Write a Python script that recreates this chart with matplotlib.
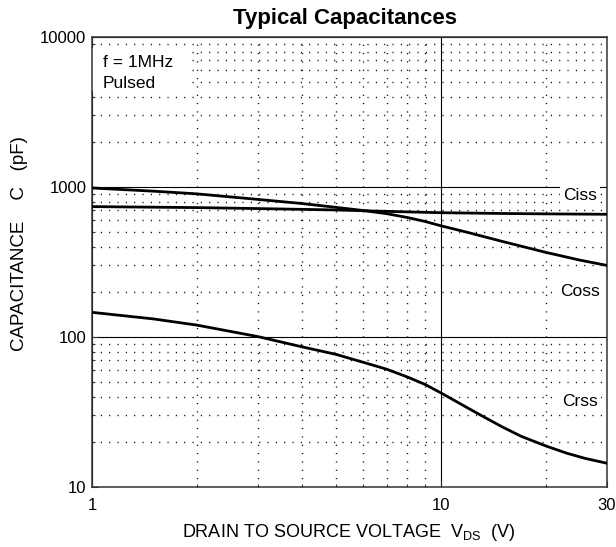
import matplotlib
matplotlib.use("Agg")
import matplotlib.pyplot as plt
from matplotlib.ticker import FixedLocator, NullFormatter, FixedFormatter
from matplotlib.patches import Rectangle

plt.rcParams['font.family'] = ['Liberation Sans', 'DejaVu Sans']
plt.rcParams['mathtext.default'] = 'regular'

# ---- data ----
vds_iss = [1, 2, 3, 5, 7, 10, 15, 20, 30]
c_iss = [740, 729, 718, 703, 688, 674, 666, 662, 658]

vds_oss = [1, 1.5, 2, 3, 4, 5, 6, 7, 8, 9, 10, 12, 15, 20, 25, 30]
c_oss = [985, 938, 900, 826, 776, 732, 697, 664, 627, 590, 552, 497, 434, 367, 326, 300]

vds_rss = [1, 1.5, 2, 3, 4, 5, 6, 7, 8, 9, 10, 12, 13, 15, 17, 20, 23, 26, 30]
c_rss = [146, 132, 120, 100.5, 86, 76.7, 67.8, 61, 54.3, 48.4, 42.5, 33.5, 30.2, 25.2,
         21.8, 18.8, 16.8, 15.5, 14.4]

x_ticks = [1, 10, 30]
x_ticklabels = ['1', '10', '30']
x_minor = [2, 3, 4, 5, 6, 7, 8, 9, 20]
y_ticks = [10, 100, 1000, 10000]
y_ticklabels = ['10', '100', '1000', '10000']
y_minor = [m * d for d in (10, 100, 1000) for m in range(2, 10)]

W, H = 616, 547
fig = plt.figure(figsize=(W / 100, H / 100), dpi=100)
L, R, T, B = 92, 607, 37, 487
ax = fig.add_axes([L / W, (H - B) / H, (R - L) / W, (B - T) / H])

ax.set_xscale('log')
ax.set_yscale('log')
ax.set_xlim(1, 30)
ax.set_ylim(10, 10000)

ax.xaxis.set_major_locator(FixedLocator(x_ticks))
ax.xaxis.set_major_formatter(FixedFormatter(x_ticklabels))
ax.xaxis.set_minor_locator(FixedLocator(x_minor))
ax.xaxis.set_minor_formatter(NullFormatter())
ax.yaxis.set_major_locator(FixedLocator(y_ticks))
ax.yaxis.set_major_formatter(FixedFormatter(y_ticklabels))
ax.yaxis.set_minor_locator(FixedLocator(y_minor))
ax.yaxis.set_minor_formatter(NullFormatter())

ax.tick_params(which='both', direction='in', labelsize=12, color='#333333')
ax.tick_params(which='major', length=4, width=0.8)
ax.tick_params(which='minor', length=2.5, width=0.8)
ax.tick_params(axis='x', pad=8)
ax.tick_params(axis='y', pad=4)

ax.grid(which='major', linestyle='-', color='black', linewidth=0.8)
ax.grid(which='minor', linestyle=(0, (0.8, 5.2)), color='black', linewidth=1.0)
ax.set_axisbelow(True)

for s in ax.spines.values():
    s.set_color('#333333')
    s.set_linewidth(1.1)

ax.plot(vds_iss, c_iss, color='black', lw=2.0, zorder=3, solid_joinstyle='round')
ax.plot(vds_oss, c_oss, color='black', lw=2.0, zorder=3, solid_joinstyle='round')
ax.plot(vds_rss, c_rss, color='black', lw=2.0, zorder=3, solid_joinstyle='round')

bb = dict(boxstyle='square,pad=0.2', facecolor='white', edgecolor='none')
def fx(px):
    return (px - L) / (R - L)
def fy(py):
    return (B - py) / (B - T)

ax.text(fx(580), fy(196), 'Ciss', transform=ax.transAxes, ha='center', va='center',
        fontsize=12.5, bbox=bb, zorder=4)
ax.text(fx(580), fy(291), 'Coss', transform=ax.transAxes, ha='center', va='center',
        fontsize=12.5, bbox=bb, zorder=4)
ax.text(fx(580), fy(401), 'Crss', transform=ax.transAxes, ha='center', va='center',
        fontsize=12.5, bbox=bb, zorder=4)

ax.add_patch(Rectangle((0, fy(91)), fx(188), fy(48) - fy(91), transform=ax.transAxes,
                       facecolor='white', edgecolor='none', zorder=2.5))
ax.text(fx(103), fy(67), 'f = 1MHz', transform=ax.transAxes, ha='left', va='baseline',
        fontsize=12.5, zorder=4)
ax.text(fx(103), fy(88), 'Pulsed', transform=ax.transAxes, ha='left', va='baseline',
        fontsize=12.5, zorder=4)

fig.text(345 / W, (H - 24) / H, 'Typical Capacitances', ha='center', va='baseline',
         fontsize=16, fontweight='bold')
fig.text(349 / W, (H - 537) / H, 'DRAIN TO SOURCE VOLTAGE  $V_{DS}$  (V)',
         ha='center', va='baseline', fontsize=13)
fig.text(19.5 / W, (H - 244) / H, 'CAPACITANCE    C   (pF)', rotation=90,
         ha='center', va='center', fontsize=13.5)

fig.savefig('out.png', dpi=100)
